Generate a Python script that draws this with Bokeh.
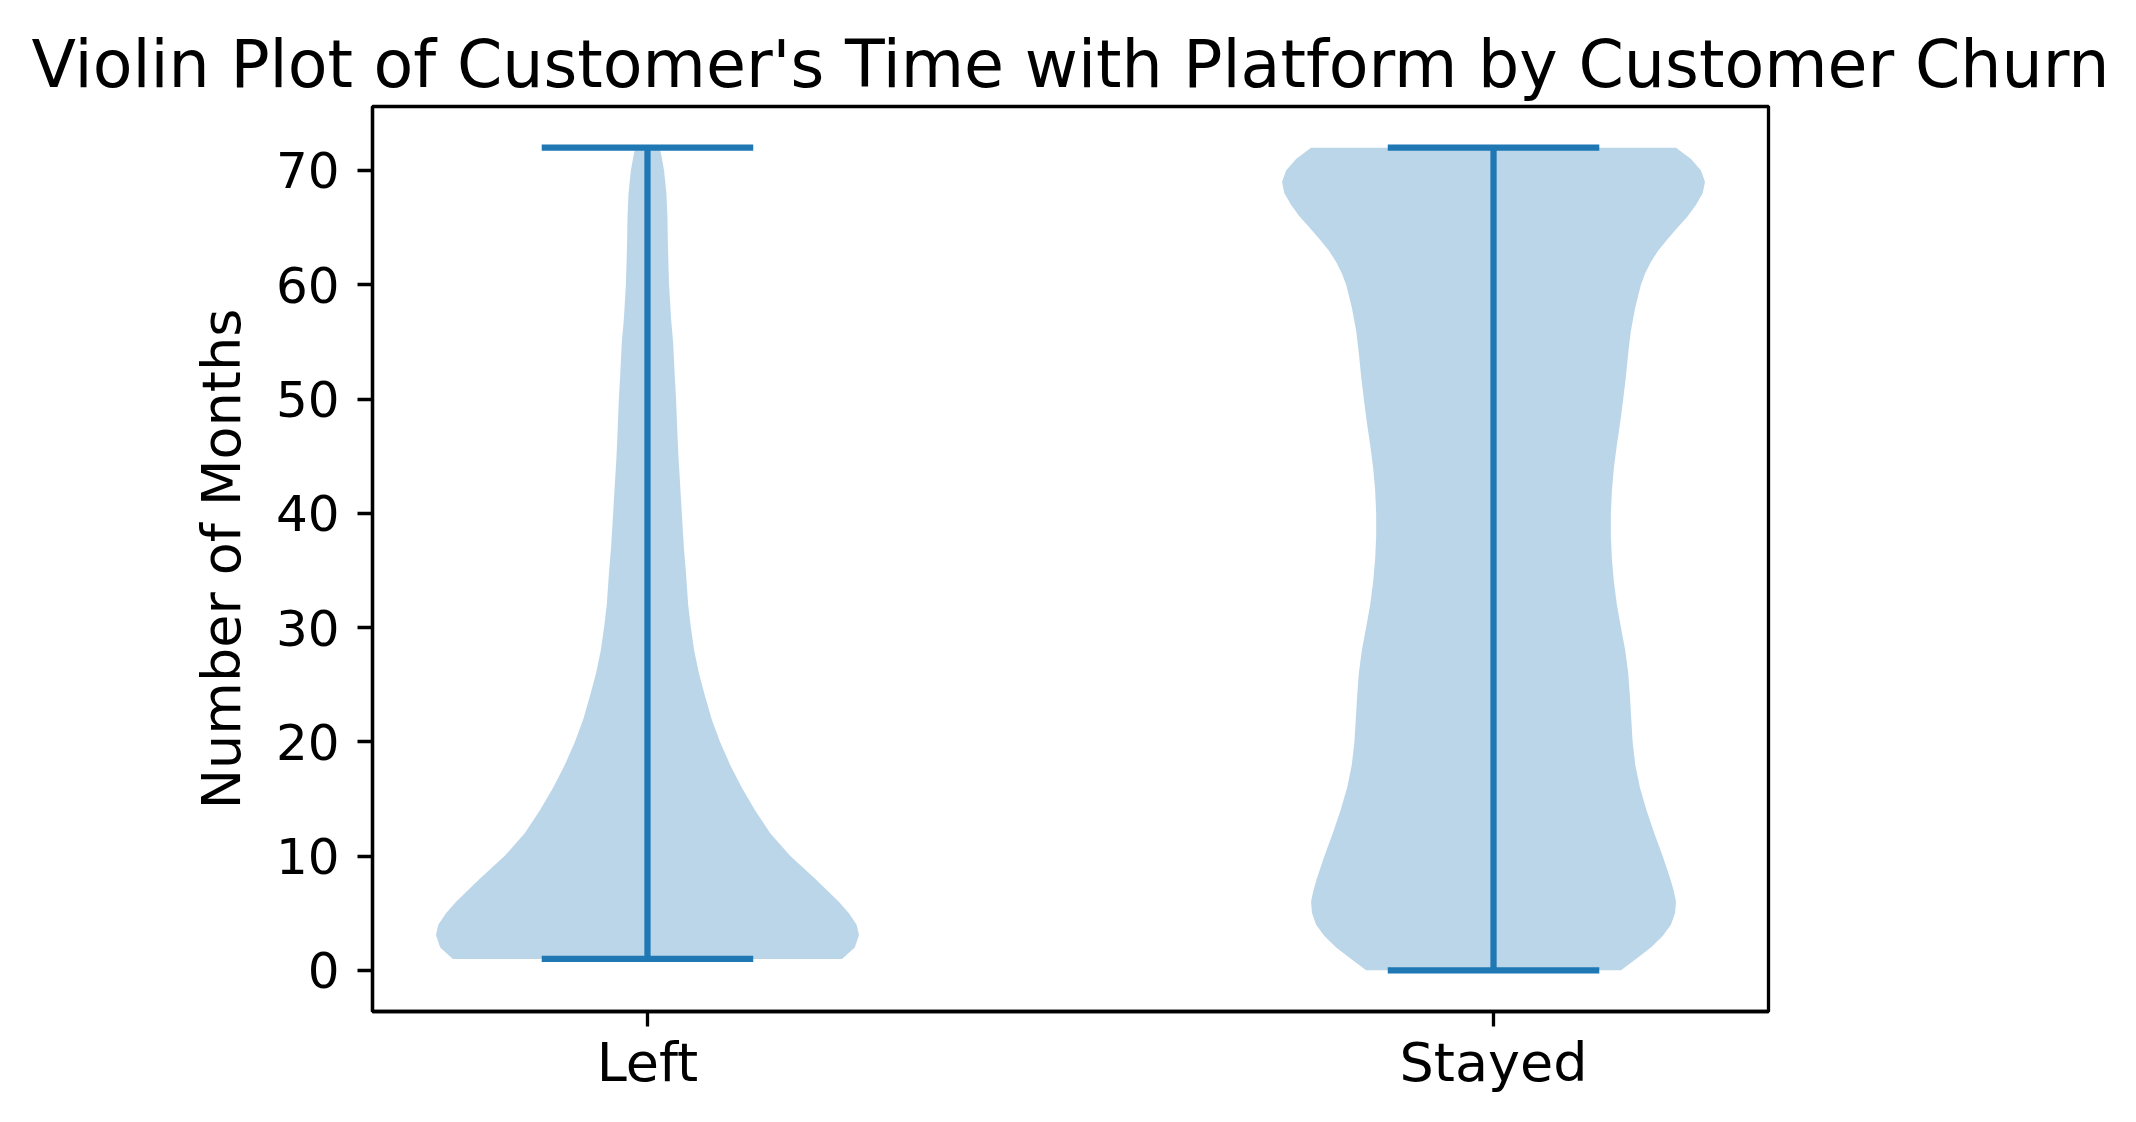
from bokeh.plotting import figure
from bokeh.models import Range1d, FixedTicker
from bokeh.embed import file_html
from bokeh.resources import INLINE

# ---- data ----
categories = ["Left", "Stayed"]
positions = [1, 2]
mins = [1, 0]
maxs = [72, 72]

left_y = [72, 71, 70, 68, 66, 64, 62, 60, 57, 55, 52, 50, 47, 45, 42, 40, 37, 35,
          32, 30, 28, 26, 24, 22, 20, 18, 16, 14, 12, 10, 8, 6, 5, 4, 3.1, 2, 1]
left_w = [0.0145, 0.0172, 0.0196, 0.0224, 0.0236, 0.024, 0.0247, 0.0255, 0.0279,
          0.0303, 0.0323, 0.0338, 0.0354, 0.0366, 0.039, 0.0406, 0.043, 0.0453,
          0.0481, 0.0513, 0.0552, 0.0608, 0.068, 0.0758, 0.0857, 0.0976, 0.1114,
          0.1273, 0.1451, 0.1689, 0.1985, 0.2262, 0.2381, 0.2472, 0.25, 0.245, 0.23]

stayed_y = [72, 71, 70, 69, 68, 67, 66, 65, 64, 63, 62, 61, 60, 58, 56, 54, 52, 50,
            48, 46, 44, 42, 40, 38, 36, 34, 32, 30, 28, 26, 24, 22, 20, 18, 16, 14,
            12, 10, 8, 7, 6, 5, 4, 3, 2, 1, 0]
stayed_w = [0.2157, 0.2334, 0.2452, 0.25, 0.2472, 0.2394, 0.2295, 0.2176, 0.2058,
            0.1947, 0.186, 0.1793, 0.1742, 0.1675, 0.1624, 0.1592, 0.1565, 0.1533,
            0.1498, 0.1458, 0.1423, 0.1399, 0.1387, 0.1387, 0.1399, 0.1423, 0.1458,
            0.1506, 0.1557, 0.1592, 0.1612, 0.1628, 0.1644, 0.1675, 0.173, 0.1809,
            0.19, 0.1999, 0.209, 0.2129, 0.2157, 0.2145, 0.2097, 0.1999, 0.186,
            0.1684, 0.1506]

y_ticks = [0, 10, 20, 30, 40, 50, 60, 70]

title_text = "Violin Plot of Customer's Time with Platform by Customer Churn"
y_label = "Number of Months"

# ---- style ----
BLUE = "#1f77b4"
FONT = "DejaVu Sans"
CAP_HALF = 0.125

p = figure(width=2136, height=1122, output_backend="svg", toolbar_location=None,
           x_range=Range1d(0.675, 2.325), y_range=Range1d(-3.6, 75.6),
           min_border_left=372, min_border_right=368,
           min_border_top=106, min_border_bottom=111)

p.background_fill_color = "white"
p.border_fill_color = "white"
p.outline_line_color = "black"
p.outline_line_width = 3.3
p.xgrid.visible = False
p.ygrid.visible = False

p.title.text = title_text
p.title.text_font = FONT
p.title.text_font_size = "65px"
p.title.text_font_style = "normal"
p.title.align = "center"
p.title.text_color = "black"

profiles = [(left_y, left_w), (stayed_y, stayed_w)]
for pos, (ys, ws) in zip(positions, profiles):
    xs_right = [pos + w for w in ws]
    xs_left = [pos - w for w in ws][::-1]
    p.patch(xs_right + xs_left, list(ys) + list(ys)[::-1],
            fill_color=BLUE, fill_alpha=0.3, line_color=None)

p.segment(x0=positions, y0=mins, x1=positions, y1=maxs, line_color=BLUE, line_width=6.25)
p.segment(x0=[x - CAP_HALF for x in positions], y0=mins,
          x1=[x + CAP_HALF for x in positions], y1=mins, line_color=BLUE, line_width=6.25)
p.segment(x0=[x - CAP_HALF for x in positions], y0=maxs,
          x1=[x + CAP_HALF for x in positions], y1=maxs, line_color=BLUE, line_width=6.25)

for ax in (p.xaxis, p.yaxis):
    ax.axis_line_color = "black"
    ax.axis_line_width = 3.3
    ax.major_tick_line_color = "black"
    ax.major_tick_line_width = 3.3
    ax.major_tick_out = 15
    ax.major_tick_in = 0
    ax.minor_tick_line_color = None
    ax.major_label_text_font = FONT
    ax.major_label_text_color = "black"

p.xaxis.ticker = FixedTicker(ticks=positions)
p.xaxis.major_label_overrides = {pos: c for pos, c in zip(positions, categories)}
p.xaxis.major_label_text_font_size = "54px"
p.xaxis.major_label_standoff = 4

p.yaxis.ticker = FixedTicker(ticks=y_ticks)
p.yaxis.major_label_text_font_size = "50px"
p.yaxis.major_label_standoff = 18
p.yaxis.axis_label = y_label
p.yaxis.axis_label_text_font = FONT
p.yaxis.axis_label_text_font_size = "54px"
p.yaxis.axis_label_text_font_style = "normal"
p.yaxis.axis_label_text_color = "black"
p.yaxis.axis_label_standoff = 20

open("out.html", "w").write(file_html(p, INLINE))
